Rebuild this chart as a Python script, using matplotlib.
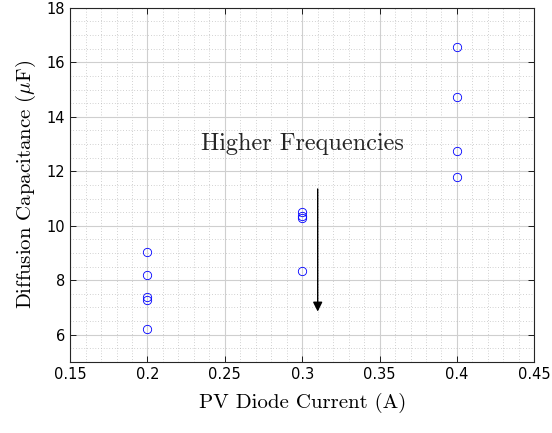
import matplotlib.pyplot as plt
import numpy as np

plt.rcParams['mathtext.fontset'] = 'cm'

current_a = [0.2, 0.2, 0.2, 0.2, 0.2, 0.3, 0.3, 0.3, 0.3, 0.4, 0.4, 0.4, 0.4]
capacitance_uf = [9.05, 8.2, 7.38, 7.27, 6.2, 10.52, 10.37, 10.3, 8.33,
                  16.55, 14.73, 12.75, 11.8]
x_ticks = [0.15, 0.2, 0.25, 0.3, 0.35, 0.4, 0.45]
x_tick_labels = ['0.15', '0.2', '0.25', '0.3', '0.35', '0.4', '0.45']
y_ticks = [6, 8, 10, 12, 14, 16, 18]

fig = plt.figure(figsize=(5.52, 4.33), dpi=100)
ax = fig.add_axes([0.127, 0.164, 0.841, 0.818])

ax.plot(current_a, capacitance_uf, 'o', markersize=6, markerfacecolor='none',
        markeredgecolor='#0000ff', markeredgewidth=0.6)

ax.set_xlim(0.15, 0.45)
ax.set_ylim(5, 18)
ax.set_xticks(x_ticks)
ax.set_xticklabels(x_tick_labels)
ax.set_yticks(y_ticks)
ax.set_xticks(np.arange(0.15, 0.4501, 0.01), minor=True)
ax.set_yticks(np.arange(5, 18.01, 0.5), minor=True)

ax.grid(True, which='major', color='#cfcfcf', linewidth=0.8)
ax.grid(True, which='minor', color='#a8a8a8', linestyle=(0, (1, 3)), linewidth=0.5)
ax.set_axisbelow(True)
ax.tick_params(which='both', direction='in', top=True, right=True)
ax.tick_params(which='minor', length=0)
ax.tick_params(which='major', length=4, labelsize=10.5, width=0.6)
for s in ax.spines.values():
    s.set_linewidth(0.8)
    s.set_color('#262626')

ax.set_xlabel('PV Diode Current (A)', family='cmr10', fontsize=15, labelpad=8)
ax.set_ylabel(r'Diffusion Capacitance ($\mu$F)', family='cmr10', fontsize=15,
              labelpad=6)

ax.text(0.3, 13.0, 'Higher Frequencies', family='cmr10', fontsize=17.5,
        ha='center', va='center', color='#262626')
ax.annotate('', xy=(0.31, 6.85), xytext=(0.31, 11.35),
            arrowprops=dict(arrowstyle='-|>', color='black', lw=1.0,
                            mutation_scale=14, shrinkA=0, shrinkB=0))

fig.savefig('out.png', dpi=100)
